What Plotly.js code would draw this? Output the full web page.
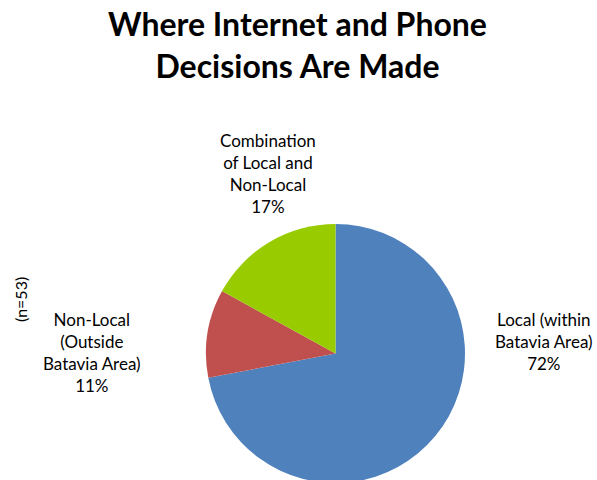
<!DOCTYPE html>
<html><head><meta charset="utf-8">
<script src="https://cdn.plot.ly/plotly-3.0.1.min.js"></script>
<style>html,body{margin:0;padding:0;overflow:hidden;background:#fff}</style>
</head><body><div id="chart" style="width:597px;height:484px"></div>
<script>
const categories = ["Local (within Batavia Area)", "Non-Local (Outside Batavia Area)", "Combination of Local and Non-Local"];
const labelLines = ["Local (within<br>Batavia Area)", "Non-Local<br>(Outside<br>Batavia Area)", "Combination<br>of Local and<br>Non-Local"];
const percents = [72, 11, 17];
const sliceColors = ["#4F81BD", "#C0504D", "#99CC00"];
const sampleNote = "(n=53)";
const titleText = "<b>Where Internet and Phone<br>Decisions Are Made</b>";

const W = 597, H = 484;
const px = x => x / W, py = y => 1 - y / H;
// label block centres (pixels)
const labelPos = [[544, 341], [92, 352], [268, 173]];

const annotations = categories.map((c, i) => ({
  text: labelLines[i] + "<br>" + percents[i] + "%",
  xref: "paper", yref: "paper", x: px(labelPos[i][0]), y: py(labelPos[i][1]),
  xanchor: "center", yanchor: "middle", showarrow: false, align: "center",
  font: {family: "Lato, sans-serif", size: 17, color: "#000"}
}));
annotations.push({
  text: sampleNote, xref: "paper", yref: "paper", x: px(20), y: py(300),
  textangle: -90, showarrow: false, xanchor: "center", yanchor: "middle",
  font: {family: "Lato, sans-serif", size: 16, color: "#000"}
});
annotations.push({
  text: titleText, xref: "paper", yref: "paper", x: px(297), y: py(44),
  showarrow: false, xanchor: "center", yanchor: "middle", align: "center",
  font: {family: "Lato, sans-serif", size: 32, color: "#000"}
});

const data = [{
  type: "pie", labels: categories, values: percents, sort: false,
  direction: "clockwise", rotation: 0, textinfo: "none", hoverinfo: "label+percent",
  marker: {colors: sliceColors, line: {width: 0}},
  domain: {x: [206 / W, 465 / W], y: [1 / H, 260 / H]},
  showlegend: false
}];

const layout = {
  width: W, height: H, margin: {l: 0, r: 0, t: 0, b: 0},
  paper_bgcolor: "#fff", plot_bgcolor: "#fff", showlegend: false,
  annotations: annotations
};
Plotly.newPlot("chart", data, layout, {displayModeBar: false, staticPlot: true});
</script></body></html>
